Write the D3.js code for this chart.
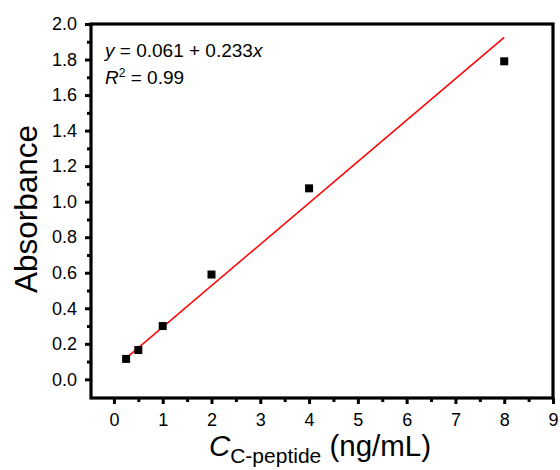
<!DOCTYPE html>
<html>
<head>
<meta charset="utf-8">
<script src="https://cdn.jsdelivr.net/npm/d3@7"></script>
<style>
  html, body { margin: 0; padding: 0; background: #fff; }
  svg { display: block; }
  text { font-family: "Liberation Sans", Arial, sans-serif; fill: #000; }
</style>
</head>
<body>
<svg id="chart" width="560" height="470"></svg>
<script>
// Calibration data: C-peptide concentration (ng/mL) vs absorbance
const concentration = [0.25, 0.5, 1, 2, 4, 8];
const absorbance = [0.115, 0.165, 0.30, 0.59, 1.075, 1.79];

// Linear fit
const fitIntercept = 0.061;
const fitSlope = 0.233;
const fitRange = [0.25, 8];

// Axis ticks
const xTicks = [0, 1, 2, 3, 4, 5, 6, 7, 8, 9];
const xMinorTicks = [0.5, 1.5, 2.5, 3.5, 4.5, 5.5, 6.5, 7.5, 8.5];
const yTicks = [0.0, 0.2, 0.4, 0.6, 0.8, 1.0, 1.2, 1.4, 1.6, 1.8, 2.0];
const yMinorTicks = [0.1, 0.3, 0.5, 0.7, 0.9, 1.1, 1.3, 1.5, 1.7, 1.9];

const svg = d3.select("#chart");
const plotLeft = 91, plotRight = 553, plotTop = 24, plotBottom = 398;

const x = d3.scaleLinear().domain([-0.47, 9]).range([plotLeft, plotRight]);
const y = d3.scaleLinear().domain([-0.105, 2.0]).range([plotBottom, plotTop]);

// Major and minor ticks
const xAxis = svg.append("g").attr("transform", `translate(0,${plotBottom})`)
  .call(d3.axisBottom(x).tickValues(xTicks).tickFormat(d3.format("d"))
    .tickSize(6).tickPadding(9));
const xMinor = svg.append("g").attr("transform", `translate(0,${plotBottom})`)
  .call(d3.axisBottom(x).tickValues(xMinorTicks).tickFormat("").tickSize(4));
const yAxis = svg.append("g").attr("transform", `translate(${plotLeft},0)`)
  .call(d3.axisLeft(y).tickValues(yTicks).tickFormat(d3.format(".1f"))
    .tickSize(6).tickPadding(8));
const yMinor = svg.append("g").attr("transform", `translate(${plotLeft},0)`)
  .call(d3.axisLeft(y).tickValues(yMinorTicks).tickFormat("").tickSize(4));

[xAxis, xMinor, yAxis, yMinor].forEach(g => {
  g.select(".domain").remove();
  g.selectAll(".tick line").attr("stroke", "#000").attr("stroke-width", 3);
  g.selectAll(".tick text").attr("font-size", 18).attr("fill", "#000")
    .style("font-family", '"Liberation Sans", Arial, sans-serif');
});

// Frame
svg.append("rect")
  .attr("x", plotLeft).attr("y", plotTop)
  .attr("width", plotRight - plotLeft).attr("height", plotBottom - plotTop)
  .attr("fill", "none").attr("stroke", "#000").attr("stroke-width", 3.2);

// Fit line
svg.append("line")
  .attr("x1", x(fitRange[0])).attr("y1", y(fitIntercept + fitSlope * fitRange[0]))
  .attr("x2", x(fitRange[1])).attr("y2", y(fitIntercept + fitSlope * fitRange[1]))
  .attr("stroke", "#ff0000").attr("stroke-width", 1.5);

// Data points
const size = 8;
svg.append("g").selectAll("rect")
  .data(concentration.map((c, i) => [c, absorbance[i]]))
  .join("rect")
  .attr("x", d => x(d[0]) - size / 2)
  .attr("y", d => y(d[1]) - size / 2)
  .attr("width", size).attr("height", size)
  .attr("fill", "#000");

// Fit equation
const eq = svg.append("text").attr("x", 105).attr("y", 57).attr("font-size", 19);
eq.append("tspan").attr("font-style", "italic").text("y");
eq.append("tspan").text(" = 0.061 + 0.233");
eq.append("tspan").attr("font-style", "italic").text("x");

const r2 = svg.append("text").attr("x", 105).attr("y", 84).attr("font-size", 19);
r2.append("tspan").attr("font-style", "italic").text("R");
r2.append("tspan").attr("font-size", 12).attr("dy", -7).text("2");
r2.append("tspan").attr("dy", 7).text(" = 0.99");

// Axis titles
svg.append("text")
  .attr("transform", `translate(37,${(plotTop + plotBottom) / 2 - 2}) rotate(-90)`)
  .attr("text-anchor", "middle")
  .attr("font-size", 31.5)
  .text("Absorbance");

const xt = svg.append("text")
  .attr("x", (plotLeft + plotRight) / 2 - 2).attr("y", 456)
  .attr("text-anchor", "middle")
  .attr("font-size", 29.5);
xt.append("tspan").attr("font-style", "italic").text("C");
xt.append("tspan").attr("font-size", 21).attr("dy", 7).text("C-peptide");
xt.append("tspan").attr("dy", -7).text(" (ng/mL)");
</script>
</body>
</html>
